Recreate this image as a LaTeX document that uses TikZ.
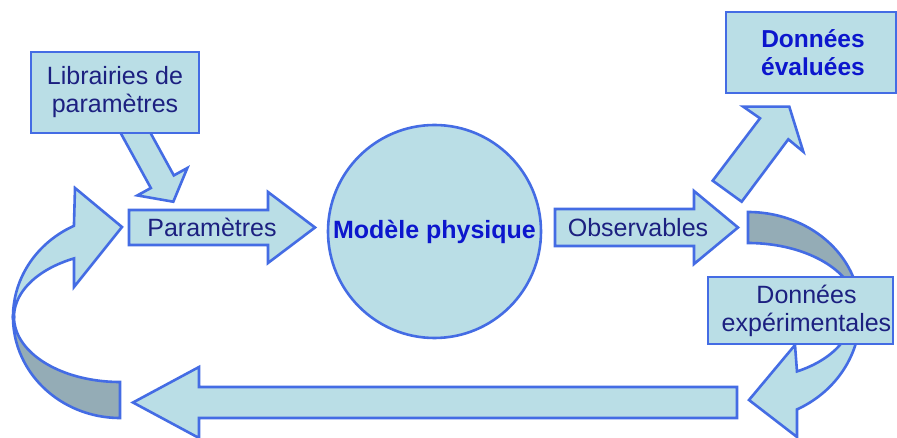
\documentclass[tikz,border=0pt]{standalone}
\usepackage{fontspec}
\setmainfont{Liberation Sans}
\definecolor{fillc}{RGB}{186,222,230}
\definecolor{darkc}{RGB}{148,172,182}
\definecolor{borderc}{RGB}{68,108,228}
\definecolor{textc}{RGB}{28,32,128}
\definecolor{boldc}{RGB}{12,22,205}
\tikzset{
  blk/.style={fill=fillc, draw=borderc, line width=2.6pt, line join=miter},
  ribdark/.style={fill=darkc, draw=borderc, line width=2.6pt, line join=miter},
  boxs/.style={rectangle, fill=fillc, draw=borderc, line width=2.6pt, inner sep=0pt,
    align=center, text=textc, font=\fontsize{25}{28}\selectfont},
  boldbox/.style={boxs, text=boldc, font=\fontsize{24.5}{28}\selectfont\bfseries},
  lbl/.style={text=textc, inner sep=0pt, font=\fontsize{25}{28}\selectfont}
}
\begin{document}
\begin{tikzpicture}[x=1pt,y=-1pt]
\fill[white] (0,0) rectangle (897,438);
\useasboundingbox (0,0) rectangle (897,438);

% left curved ribbon arrow
\path[ribdark] plot[domain=180:90,samples=50] ({120+107*cos(\x)},{317+101*sin(\x)})
  -- plot[domain=90:180,samples=50] ({120+106*cos(\x)},{317+65*sin(\x)}) -- cycle;
\path[blk] plot[domain=180:244.5,samples=50] ({120+107*cos(\x)},{317+101*sin(\x)})
  -- (75,188) -- (122,227) -- (74,287)
  -- plot[domain=244.3:180,samples=50] ({120+106*cos(\x)},{317+65*sin(\x)}) -- cycle;

% right curved ribbon arrow
\path[ribdark] plot[domain=270:360,samples=50] ({748+112*cos(\x)},{311+99*sin(\x)})
  -- plot[domain=360:270,samples=50] ({748+110*cos(\x)},{311+68*sin(\x)}) -- cycle;
\path[blk] plot[domain=0:64.06,samples=50] ({748+112*cos(\x)},{315+105*sin(\x)})
  -- (797,437) -- (749,400) -- (795,345)
  -- plot[domain=61.9:0,samples=50] ({748+104*cos(\x)},{315+64*sin(\x)}) -- cycle;

% arrow from the parameter libraries
\begin{scope}[shift={(136.7,135)}, rotate=-61.25]
  \path[blk] (-14,-13.1) -- (53.3,-13.1) -- (53.3,-28.5) -- (76.1,0)
    -- (53.3,28.5) -- (53.3,13.1) -- (-14,13.1) -- cycle;
\end{scope}

% arrow towards the evaluated data
\path[blk] (743.3,106.7) -- (789.3,106.7) -- (803.3,151.7) -- (788.3,139.3)
  -- (741.7,201.7) -- (712.7,180.7) -- (760,118.3) -- cycle;

% Parametres arrow
\path[blk] (129,210) -- (268,210) -- (268,192) -- (315,227.5) -- (268,263)
  -- (268,245) -- (129,245) -- cycle;
% Observables arrow
\path[blk] (555,209) -- (694,209) -- (694,191) -- (738,227.5) -- (694,264)
  -- (694,246) -- (555,246) -- cycle;
% long return arrow
\path[blk] (737,387) -- (199,387) -- (199,367) -- (133,402.5) -- (199,438)
  -- (199,418) -- (737,418) -- cycle;

% nodes
\node[boxs, minimum width=168pt, minimum height=81pt] (lib) at (115,92.5)
  {Librairies de\\paramètres};
\node[boldbox, minimum width=170pt, minimum height=81pt] (evals) at (811,52.5)
  {\hspace*{4pt}Données\\\hspace*{4pt}évaluées};
\node[boxs, minimum width=185pt, minimum height=67pt] (exp) at (800.5,310.5)
  {\hspace*{12pt}Données\\\hspace*{12pt}expérimentales};
\node[circle, fill=fillc, draw=borderc, line width=2.6pt, minimum size=213pt,
  inner sep=0pt, text=boldc, font=\fontsize{25}{28}\selectfont\bfseries]
  (model) at (434.5,231.5) {Modèle physique};
\node[lbl, anchor=base] (ptxt) at (212,236.5) {Paramètres};
\node[lbl, anchor=base] (otxt) at (638,237) {Observables};
\end{tikzpicture}
\end{document}
